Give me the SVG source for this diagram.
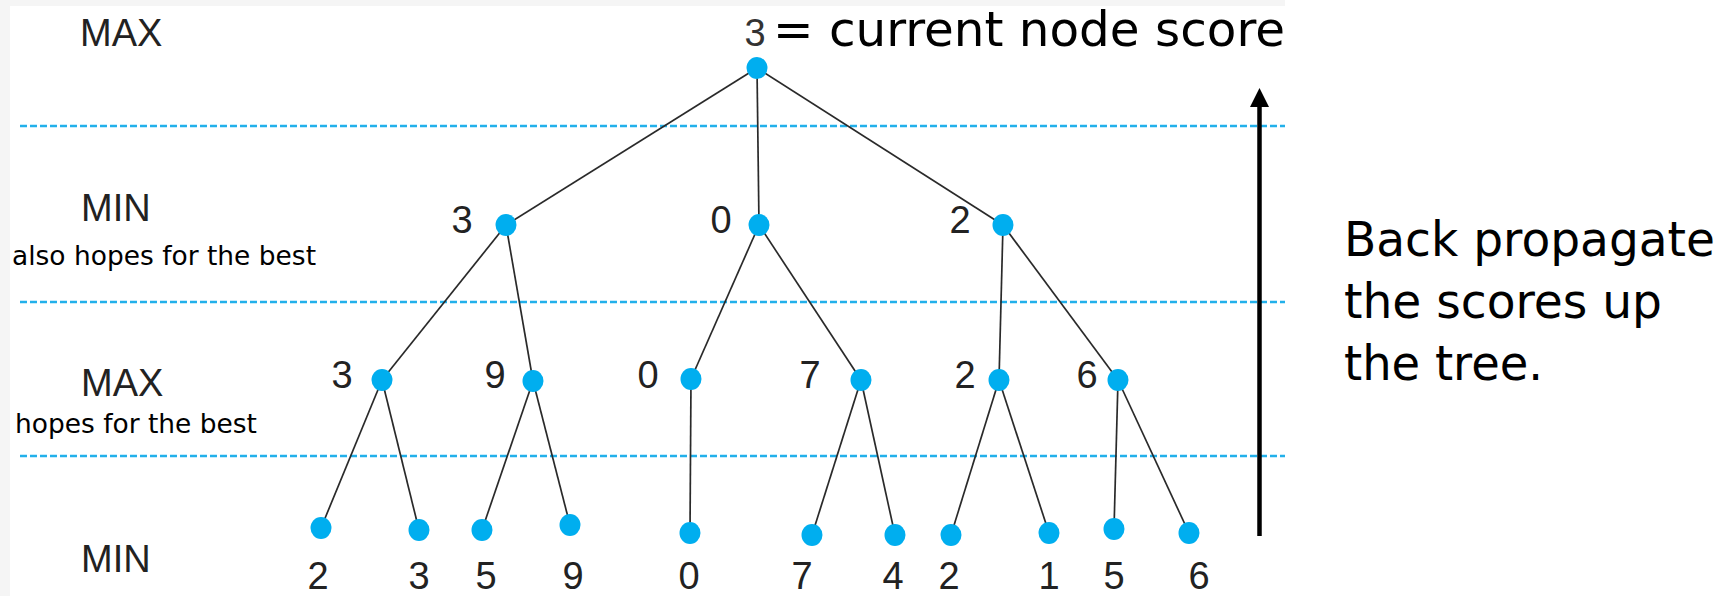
<svg xmlns="http://www.w3.org/2000/svg" width="1733" height="596" viewBox="0 0 1733 596">
<defs>
<style>
.lvl{font-family:"Liberation Sans",Arial,sans-serif;font-size:38px;fill:#222}
.num{font-family:"Liberation Sans",Arial,sans-serif;font-size:38px;fill:#222;text-anchor:middle}
.note{font-family:"DejaVu Sans",Verdana,sans-serif;font-size:27px;fill:#000}
.big{font-family:"DejaVu Sans",Verdana,sans-serif;font-size:48px;fill:#000}
.dash{stroke:#22b0ea;stroke-width:2.5;stroke-dasharray:7 3;fill:none}
.edge{stroke:#2a2a2a;stroke-width:1.7;fill:none}
.node{fill:#00aeef}
</style>
</defs>
<rect x="0" y="0" width="1733" height="596" fill="#fff"/>
<rect x="0" y="0" width="1285" height="6" fill="#f5f5f5"/>
<rect x="0" y="0" width="10" height="596" fill="#f5f5f5"/>

<g id="levels">
<text class="lvl" x="80" y="46">MAX</text>
<text class="lvl" x="81" y="221">MIN</text>
<text class="note" x="12" y="265" textLength="304" lengthAdjust="spacingAndGlyphs">also hopes for the best</text>
<text class="lvl" x="81" y="396">MAX</text>
<text class="note" x="15" y="433" textLength="242" lengthAdjust="spacingAndGlyphs">hopes for the best</text>
<text class="lvl" x="81" y="572">MIN</text>
</g>

<g id="dividers">
<line class="dash" x1="20" y1="126" x2="1285" y2="126"/>
<line class="dash" x1="20" y1="302" x2="1285" y2="302"/>
<line class="dash" x1="20" y1="456" x2="1285" y2="456"/>
</g>

<g id="connectors">
<line class="edge" x1="757" y1="68" x2="506" y2="225"/>
<line class="edge" x1="757" y1="68" x2="759" y2="225"/>
<line class="edge" x1="757" y1="68" x2="1003" y2="225"/>
<line class="edge" x1="506" y1="225" x2="382" y2="380"/>
<line class="edge" x1="506" y1="225" x2="533" y2="381"/>
<line class="edge" x1="759" y1="225" x2="691" y2="379"/>
<line class="edge" x1="759" y1="225" x2="861" y2="380"/>
<line class="edge" x1="1003" y1="225" x2="999" y2="380"/>
<line class="edge" x1="1003" y1="225" x2="1118" y2="380"/>
<line class="edge" x1="382" y1="380" x2="321" y2="528"/>
<line class="edge" x1="382" y1="380" x2="419" y2="530"/>
<line class="edge" x1="533" y1="381" x2="482" y2="530"/>
<line class="edge" x1="533" y1="381" x2="570" y2="525"/>
<line class="edge" x1="691" y1="379" x2="690" y2="533"/>
<line class="edge" x1="861" y1="380" x2="812" y2="535"/>
<line class="edge" x1="861" y1="380" x2="895" y2="535"/>
<line class="edge" x1="999" y1="380" x2="951" y2="535"/>
<line class="edge" x1="999" y1="380" x2="1049" y2="533"/>
<line class="edge" x1="1118" y1="380" x2="1114" y2="529"/>
<line class="edge" x1="1118" y1="380" x2="1189" y2="533"/>
</g>

<g id="root"><ellipse class="node" cx="757" cy="68" rx="10.5" ry="11"/><text class="num" x="755" y="46" style="fill:#333">3</text></g>
<g id="n_min_a"><ellipse class="node" cx="506" cy="225" rx="10.5" ry="11"/><text class="num" x="462" y="233">3</text></g>
<g id="n_min_b"><ellipse class="node" cx="759" cy="225" rx="10.5" ry="11"/><text class="num" x="721" y="233">0</text></g>
<g id="n_min_c"><ellipse class="node" cx="1003" cy="225" rx="10.5" ry="11"/><text class="num" x="960" y="233">2</text></g>
<g id="n_max_a"><ellipse class="node" cx="382" cy="380" rx="10.5" ry="11"/><text class="num" x="342" y="388">3</text></g>
<g id="n_max_b"><ellipse class="node" cx="533" cy="381" rx="10.5" ry="11"/><text class="num" x="495" y="388">9</text></g>
<g id="n_max_c"><ellipse class="node" cx="691" cy="379" rx="10.5" ry="11"/><text class="num" x="648" y="388">0</text></g>
<g id="n_max_d"><ellipse class="node" cx="861" cy="380" rx="10.5" ry="11"/><text class="num" x="810" y="388">7</text></g>
<g id="n_max_e"><ellipse class="node" cx="999" cy="380" rx="10.5" ry="11"/><text class="num" x="965" y="388">2</text></g>
<g id="n_max_f"><ellipse class="node" cx="1118" cy="380" rx="10.5" ry="11"/><text class="num" x="1087" y="388">6</text></g>

<g id="leaf1"><ellipse class="node" cx="321" cy="528" rx="10.5" ry="11"/><text class="num" x="318" y="589">2</text></g>
<g id="leaf2"><ellipse class="node" cx="419" cy="530" rx="10.5" ry="11"/><text class="num" x="419" y="589">3</text></g>
<g id="leaf3"><ellipse class="node" cx="482" cy="530" rx="10.5" ry="11"/><text class="num" x="486" y="589">5</text></g>
<g id="leaf4"><ellipse class="node" cx="570" cy="525" rx="10.5" ry="11"/><text class="num" x="573" y="589">9</text></g>
<g id="leaf5"><ellipse class="node" cx="690" cy="533" rx="10.5" ry="11"/><text class="num" x="689" y="589">0</text></g>
<g id="leaf6"><ellipse class="node" cx="812" cy="535" rx="10.5" ry="11"/><text class="num" x="802" y="589">7</text></g>
<g id="leaf7"><ellipse class="node" cx="895" cy="535" rx="10.5" ry="11"/><text class="num" x="893" y="589">4</text></g>
<g id="leaf8"><ellipse class="node" cx="951" cy="535" rx="10.5" ry="11"/><text class="num" x="949" y="589">2</text></g>
<g id="leaf9"><ellipse class="node" cx="1049" cy="533" rx="10.5" ry="11"/><text class="num" x="1049" y="589">1</text></g>
<g id="leaf10"><ellipse class="node" cx="1114" cy="529" rx="10.5" ry="11"/><text class="num" x="1114" y="589">5</text></g>
<g id="leaf11"><ellipse class="node" cx="1189" cy="533" rx="10.5" ry="11"/><text class="num" x="1199" y="589">6</text></g>

<g id="legend">
<text class="big" x="773" y="46" textLength="512" lengthAdjust="spacingAndGlyphs">= current node score</text>
</g>

<g id="arrow">
<line x1="1259.5" y1="536" x2="1259.5" y2="104" stroke="#000" stroke-width="4.5"/>
<polygon points="1259.5,88 1250,107 1269,107" fill="#000"/>
</g>

<g id="caption">
<text class="big" x="1344" y="256" textLength="371" lengthAdjust="spacingAndGlyphs">Back propagate</text>
<text class="big" x="1344" y="318" textLength="318" lengthAdjust="spacingAndGlyphs">the scores up</text>
<text class="big" x="1344" y="380" textLength="199" lengthAdjust="spacingAndGlyphs">the tree.</text>
</g>
</svg>
